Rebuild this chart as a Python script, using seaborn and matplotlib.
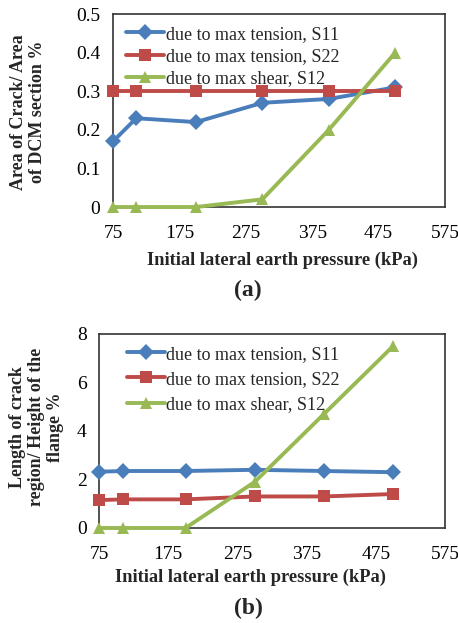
import matplotlib
matplotlib.use("Agg")
import matplotlib.pyplot as plt
import seaborn as sns
import pandas as pd

pressure = [75, 110, 200, 300, 400, 500]
series_names = ["due to max tension, S11", "due to max tension, S22", "due to max shear, S12"]

area_s11 = [0.17, 0.23, 0.22, 0.27, 0.28, 0.31]
area_s22 = [0.30, 0.30, 0.30, 0.30, 0.30, 0.30]
area_s12 = [0.0, 0.0, 0.0, 0.02, 0.20, 0.40]

len_s11 = [2.32, 2.35, 2.35, 2.40, 2.35, 2.30]
len_s22 = [1.15, 1.18, 1.18, 1.30, 1.30, 1.40]
len_s12 = [0.0, 0.0, 0.0, 1.90, 4.70, 7.50]

x_ticks = [75, 175, 275, 375, 475, 575]
y_ticks_a = [0, 0.1, 0.2, 0.3, 0.4, 0.5]
y_labels_a = ["0", "0.1", "0.2", "0.3", "0.4", "0.5"]
y_ticks_b = [0, 2, 4, 6, 8]
y_labels_b = ["0", "2", "4", "6", "8"]

sns.set_theme(style="white")
plt.rcParams["font.family"] = ["Liberation Serif", "DejaVu Serif"]

colors = ["#4A7EBB", "#BE4B48", "#98B954"]
palette = dict(zip(series_names, colors))
markers = dict(zip(series_names, ["D", "s", "^"]))


def make_df(a, b, c):
    rows = []
    for name, vals in zip(series_names, [a, b, c]):
        for x, v in zip(pressure, vals):
            rows.append({"x": x, "y": v, "series": name})
    return pd.DataFrame(rows)


fig = plt.figure(figsize=(4.58, 6.23), dpi=100)
ax_a = fig.add_axes([0.2467, 0.6677, 0.725, 0.3098])
ax_b = fig.add_axes([0.2162, 0.1525, 0.7555, 0.3114])


def draw(ax, df, yt, yl, ylim, legend_anchor, spacing):
    sns.lineplot(data=df, x="x", y="y", hue="series", style="series",
                 palette=palette, markers=markers, dashes=False,
                 linewidth=2.8, markersize=8.5, markeredgewidth=0,
                 ax=ax, legend=True, zorder=3, clip_on=False)
    ax.set_xlim(75, 575)
    ax.set_ylim(*ylim)
    ax.set_xticks(x_ticks)
    ax.set_xticklabels([str(t) for t in x_ticks])
    ax.set_yticks(yt)
    ax.set_yticklabels(yl)
    ax.tick_params(axis="x", direction="in", length=4, width=1, colors="#222222",
                   labelsize=14, pad=13, labelcolor="black")
    ax.tick_params(axis="y", direction="out", length=4, width=1, colors="#222222",
                   labelsize=14, pad=5, labelcolor="black")
    for s in ax.spines.values():
        s.set_color("#333333")
        s.set_linewidth(1.2)
    ax.set_xlabel("")
    ax.set_ylabel("")
    leg = ax.legend(loc="upper left", bbox_to_anchor=legend_anchor, frameon=False,
                    fontsize=13, handlelength=2.1, handletextpad=0.1,
                    labelspacing=spacing, borderaxespad=0, borderpad=0)
    for h in leg.get_lines():
        h.set_linewidth(2.8)


draw(ax_a, make_df(area_s11, area_s22, area_s12), y_ticks_a, y_labels_a, (0, 0.5),
     (0.04, 0.94), 0.3)
draw(ax_b, make_df(len_s11, len_s22, len_s12), y_ticks_b, y_labels_b, (0, 8),
     (0.08, 0.94), 0.45)

fig.text(0.616, 1 - 260 / 623, "Initial lateral earth pressure (kPa)", ha="center",
         va="center", fontsize=13.3, fontweight="bold")
fig.text(0.542, 1 - 290 / 623, "(a)", ha="center", va="center", fontsize=17,
         fontweight="bold")
fig.text(0.061, 1 - 112 / 623, "Area of Crack/ Area\nof DCM section %", ha="center",
         va="center", rotation=90, fontsize=13, fontweight="bold", linespacing=1.2)

fig.text(0.548, 1 - 577 / 623, "Initial lateral earth pressure (kPa)", ha="center",
         va="center", fontsize=13.3, fontweight="bold")
fig.text(0.542, 1 - 608 / 623, "(b)", ha="center", va="center", fontsize=17,
         fontweight="bold")
fig.text(0.08, 1 - 427 / 623, "Length of crack\nregion/ Height of the\nflange %",
         ha="center", va="center", rotation=90, fontsize=13, fontweight="bold",
         linespacing=1.15)

fig.savefig("out.png", dpi=100)
